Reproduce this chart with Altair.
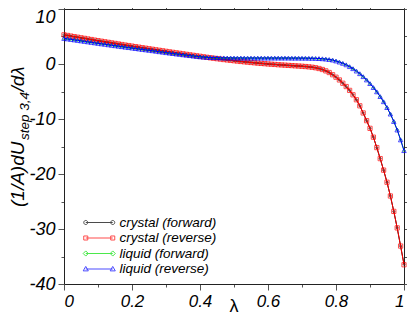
import altair as alt
import pandas as pd

# lambda sampling (markers every 0.01)
lam = [0.00, 0.01, 0.02, 0.03, 0.04, 0.05, 0.06, 0.07, 0.08, 0.09,
       0.10, 0.11, 0.12, 0.13, 0.14, 0.15, 0.16, 0.17, 0.18, 0.19,
       0.20, 0.21, 0.22, 0.23, 0.24, 0.25, 0.26, 0.27, 0.28, 0.29,
       0.30, 0.31, 0.32, 0.33, 0.34, 0.35, 0.36, 0.37, 0.38, 0.39,
       0.40, 0.41, 0.42, 0.43, 0.44, 0.45, 0.46, 0.47, 0.48, 0.49,
       0.50, 0.51, 0.52, 0.53, 0.54, 0.55, 0.56, 0.57, 0.58, 0.59,
       0.60, 0.61, 0.62, 0.63, 0.64, 0.65, 0.66, 0.67, 0.68, 0.69,
       0.70, 0.71, 0.72, 0.73, 0.74, 0.75, 0.76, 0.77, 0.78, 0.79,
       0.80, 0.81, 0.82, 0.83, 0.84, 0.85, 0.86, 0.87, 0.88, 0.89,
       0.90, 0.91, 0.92, 0.93, 0.94, 0.95, 0.96, 0.97, 0.98, 0.99,
       1.00]

crystal_reverse = [5.30, 5.19, 5.08, 4.97, 4.87, 4.76, 4.66, 4.55, 4.45, 4.34,
                   4.24, 4.14, 4.04, 3.94, 3.84, 3.74, 3.64, 3.54, 3.44, 3.35,
                   3.25, 3.15, 3.06, 2.96, 2.87, 2.77, 2.68, 2.58, 2.49, 2.40,
                   2.30, 2.21, 2.12, 2.03, 1.94, 1.85, 1.76, 1.67, 1.58, 1.49,
                   1.40, 1.31, 1.22, 1.13, 1.05, 0.97, 0.89, 0.81, 0.74, 0.67,
                   0.60, 0.53, 0.46, 0.40, 0.34, 0.28, 0.22, 0.16, 0.11, 0.06,
                   0.01, -0.04, -0.08, -0.13, -0.17, -0.21, -0.25, -0.29, -0.33, -0.37,
                   -0.41, -0.46, -0.52, -0.59, -0.68, -0.82, -1.00, -1.25, -1.55, -1.95,
                   -2.40, -2.90, -3.50, -4.10, -4.80, -5.60, -6.50, -7.60, -8.90, -10.30,
                   -11.70, -13.30, -15.20, -17.20, -19.30, -21.50, -24.00, -26.80, -29.80, -33.10,
                   -36.50]
# forward run lies underneath the reverse run everywhere
crystal_forward = [5.30, 5.19, 5.08, 4.97, 4.87, 4.76, 4.66, 4.55, 4.45, 4.34,
                   4.24, 4.14, 4.04, 3.94, 3.84, 3.74, 3.64, 3.54, 3.44, 3.35,
                   3.25, 3.15, 3.06, 2.96, 2.87, 2.77, 2.68, 2.58, 2.49, 2.40,
                   2.30, 2.21, 2.12, 2.03, 1.94, 1.85, 1.76, 1.67, 1.58, 1.49,
                   1.40, 1.31, 1.22, 1.13, 1.05, 0.97, 0.89, 0.81, 0.74, 0.67,
                   0.60, 0.53, 0.46, 0.40, 0.34, 0.28, 0.22, 0.16, 0.11, 0.06,
                   0.01, -0.04, -0.08, -0.13, -0.17, -0.21, -0.25, -0.29, -0.33, -0.37,
                   -0.41, -0.46, -0.52, -0.59, -0.68, -0.82, -1.00, -1.25, -1.55, -1.95,
                   -2.40, -2.90, -3.50, -4.10, -4.80, -5.60, -6.50, -7.60, -8.90, -10.30,
                   -11.70, -13.30, -15.20, -17.20, -19.30, -21.50, -24.00, -26.80, -29.80, -33.10,
                   -36.40]

liquid_reverse = [4.65, 4.56, 4.47, 4.38, 4.29, 4.20, 4.11, 4.02, 3.93, 3.84,
                  3.75, 3.66, 3.58, 3.49, 3.40, 3.32, 3.23, 3.15, 3.06, 2.98,
                  2.90, 2.81, 2.73, 2.65, 2.57, 2.49, 2.41, 2.32, 2.23, 2.15,
                  2.06, 1.98, 1.90, 1.82, 1.75, 1.67, 1.59, 1.52, 1.44, 1.37,
                  1.30, 1.25, 1.21, 1.18, 1.16, 1.14, 1.12, 1.11, 1.10, 1.10,
                  1.09, 1.09, 1.09, 1.08, 1.08, 1.08, 1.08, 1.08, 1.08, 1.08,
                  1.08, 1.08, 1.08, 1.08, 1.08, 1.08, 1.08, 1.07, 1.07, 1.07,
                  1.06, 1.06, 1.05, 1.04, 1.02, 0.99, 0.95, 0.90, 0.82, 0.72,
                  0.55, 0.35, 0.12, -0.15, -0.48, -0.85, -1.28, -1.76, -2.30, -2.90,
                  -3.56, -4.28, -5.06, -5.92, -6.86, -7.92, -9.10, -10.45, -12.00, -13.80,
                  -15.75]
liquid_forward = [4.65, 4.56, 4.47, 4.38, 4.29, 4.20, 4.11, 4.02, 3.93, 3.84,
                  3.75, 3.66, 3.58, 3.49, 3.40, 3.32, 3.23, 3.15, 3.06, 2.98,
                  2.90, 2.81, 2.73, 2.65, 2.57, 2.49, 2.41, 2.32, 2.23, 2.15,
                  2.06, 1.98, 1.90, 1.82, 1.75, 1.67, 1.59, 1.52, 1.44, 1.37,
                  1.30, 1.25, 1.21, 1.18, 1.16, 1.14, 1.12, 1.11, 1.10, 1.10,
                  1.09, 1.09, 1.09, 1.08, 1.08, 1.08, 1.08, 1.08, 1.08, 1.08,
                  1.08, 1.08, 1.08, 1.08, 1.08, 1.08, 1.08, 1.07, 1.07, 1.07,
                  1.06, 1.06, 1.05, 1.04, 1.02, 0.99, 0.95, 0.90, 0.82, 0.72,
                  0.55, 0.35, 0.12, -0.15, -0.48, -0.85, -1.28, -1.76, -2.30, -2.90,
                  -3.56, -4.28, -5.06, -5.92, -6.86, -7.92, -9.10, -10.45, -11.95, -13.75,
                  -15.70]

series_names = ["crystal (forward)", "crystal (reverse)", "liquid (forward)", "liquid (reverse)"]
series_values = [crystal_forward, crystal_reverse, liquid_forward, liquid_reverse]
series_colors = ["#000000", "#ff0000", "#00e000", "#0000ff"]
series_shapes = ["circle", "square", "diamond", "triangle-up"]
series_sizes = [4, 18, 6, 20]
legend_paths = [
    "M-2,0H2M-2.3,0A0.3,0.3 0 1,0 -1.7,0A0.3,0.3 0 1,0 -2.3,0ZM1.7,0A0.3,0.3 0 1,0 2.3,0A0.3,0.3 0 1,0 1.7,0Z",
    "M-2,0H2M-2.3,-0.3H-1.7V0.3H-2.3ZM1.7,-0.3H2.3V0.3H1.7Z",
    "M-2,0H2M-2,-0.38L-1.62,0L-2,0.38L-2.38,0ZM2,-0.38L2.38,0L2,0.38L1.62,0Z",
    "M-2,0H2M-2,-0.38L-1.62,0.28L-2.38,0.28ZM2,-0.38L2.38,0.28L1.62,0.28Z",
]

x_ticks = [0.0, 0.1, 0.2, 0.3, 0.4, 0.5, 0.6, 0.7, 0.8, 0.9, 1.0]
y_ticks = [-40, -35, -30, -25, -20, -15, -10, -5, 0, 5, 10]
y_title_parts = ["(1/A)dU", "step 3,4", "/dλ"]
x_title = ["λ"]

FONT = "Liberation Sans"
W, H = 340, 275

rows = []
for name, vals in zip(series_names, series_values):
    for l, v in zip(lam, vals):
        rows.append({"series": name, "lam": l, "val": v})
df = pd.DataFrame(rows)

xs = alt.Scale(domain=[0, 1], nice=False, zero=False)
ys = alt.Scale(domain=[-40, 10], nice=False, zero=False)

common_axis = dict(grid=False, domainColor="#222222", domainWidth=1, tickColor="#555555",
                   tickWidth=1, labelFont=FONT, labelFontStyle="italic", labelColor="black",
                   title=None)


def x_axis(orient, labels):
    return alt.Axis(orient=orient, values=x_ticks, labels=labels,
                    labelExpr="round(datum.value*10) % 2 == 0 ? toString(datum.value) : ''",
                    tickSize={"condition": {"test": "round(datum.value*10) % 2 == 0", "value": 6}, "value": 3},
                    labelFontSize=17, labelPadding=3, **common_axis)


def y_axis(orient, labels):
    return alt.Axis(orient=orient, values=y_ticks, labels=labels,
                    labelExpr="datum.value % 10 == 0 ? toString(datum.value) : ''",
                    tickSize={"condition": {"test": "datum.value % 10 == 0", "value": 6}, "value": 3},
                    labelOffset={"condition": {"test": "datum.value == 10", "value": 8}, "value": 0},
                    labelFontSize=18, labelPadding=3, **common_axis)


layers = []
for i, (name, col, shp, sz) in enumerate(zip(series_names, series_colors, series_shapes, series_sizes)):
    base = alt.Chart(df[df["series"] == name])
    if i == 0:
        xa, ya = x_axis("bottom", True), y_axis("left", True)
        xb, yb = x_axis("top", False), y_axis("right", False)
    else:
        xa = ya = xb = yb = None
    line = base.mark_line(color=col, strokeWidth=1).encode(
        x=alt.X("lam:Q", scale=xs, axis=xa),
        y=alt.Y("val:Q", scale=ys, axis=ya),
    )
    pts = base.mark_point(shape=shp, color=col, filled=False, size=sz, strokeWidth=1).encode(
        x=alt.X("lam:Q", scale=xs, axis=xb),
        y=alt.Y("val:Q", scale=ys, axis=yb),
    )
    layers += [line, pts]

leg = alt.Legend(orient="none", legendX=27.75, legendY=206, title=None,
                 symbolSize=182, symbolStrokeWidth=1, labelFont=FONT, labelFontStyle="italic",
                 labelFontSize=13.5, labelColor="black", labelOffset=12.75, rowPadding=1.5,
                 padding=0)
legend_layer = alt.Chart(pd.DataFrame({"series": series_names})).transform_filter("false").mark_point(
    filled=False, size=182, strokeWidth=1
).encode(
    color=alt.Color("series:N", scale=alt.Scale(domain=series_names, range=series_colors), legend=leg),
    shape=alt.Shape("series:N", scale=alt.Scale(domain=series_names, range=legend_paths), legend=leg),
)
layers.append(legend_layer)

title_specs = [(y_title_parts[0], -40.5, 198, 19), (y_title_parts[1], -35.5, 131, 13.5),
               (y_title_parts[2], -40.5, 82.5, 19)]
for txt, xp, yp, fs in title_specs:
    layers.append(
        alt.Chart(pd.DataFrame({"t": [txt]})).mark_text(
            angle=270, align="left", baseline="alphabetic", font=FONT, fontStyle="italic",
            fontSize=fs, color="black"
        ).encode(text="t:N", x=alt.value(xp), y=alt.value(yp))
    )

layers.append(
    alt.Chart(pd.DataFrame({"t": x_title})).mark_text(
        align="center", baseline="alphabetic", font=FONT, fontSize=18, color="black"
    ).encode(text="t:N", x=alt.value(W / 2), y=alt.value(303))
)

chart = alt.layer(*layers).resolve_axis(x="independent", y="independent").properties(
    width=W, height=H,
    padding={"left": 56, "top": 1, "right": 3, "bottom": 33},
    autosize="none",
).configure_view(stroke=None)

chart.save("out.html", embed_options={"renderer": "svg", "actions": False})
